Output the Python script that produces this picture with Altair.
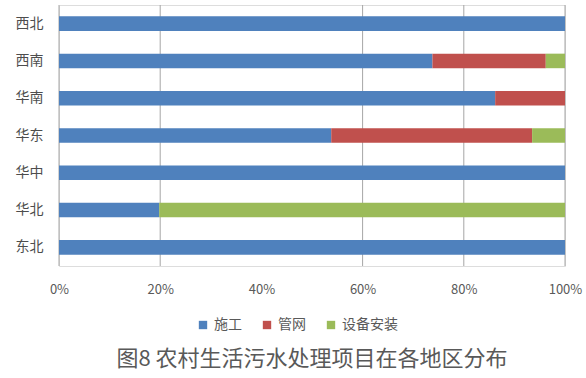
import altair as alt
import pandas as pd

regions = ["西北", "西南", "华南", "华东", "华中", "华北", "东北"]
series = ["施工", "管网", "设备安装"]
shigong = [100, 73.8, 86.2, 53.8, 100, 19.8, 100]
guanwang = [0, 22.4, 13.8, 39.7, 0, 0, 0]
shebei = [0, 3.8, 0, 6.5, 0, 80.2, 0]
colors = ["#4F81BD", "#C0504D", "#9BBB59"]
tick_values = [0, 0.2, 0.4, 0.6, 0.8, 1.0]
grid_values = [0, 0.2, 0.6, 0.8, 1.0]

rows = []
for s_i, (s, vals) in enumerate(zip(series, [shigong, guanwang, shebei])):
    for r, v in zip(regions, vals):
        rows.append({"region": r, "series": s, "value": v, "order": s_i})
df = pd.DataFrame(rows)
grid_df = pd.DataFrame({"g": grid_values})

FONT = "Noto Sans CJK SC"

xscale = alt.Scale(domain=[0, 1], nice=False)

grid = alt.Chart(grid_df).mark_rule(color="#A6A6A6", strokeWidth=1).encode(
    x=alt.X("g:Q", scale=xscale)
)

bars = alt.Chart(df).mark_bar().encode(
    y=alt.Y("region:N", sort=regions,
            scale=alt.Scale(paddingInner=0.61, paddingOuter=0.305),
            axis=alt.Axis(title=None, domain=False, ticks=False, labelFontSize=14,
                          labelColor="#4D4D4D", labelPadding=16, labelFont=FONT,
                          labelFontWeight="normal")),
    x=alt.X("value:Q", stack="normalize", scale=xscale,
            axis=alt.Axis(title=None, values=tick_values, format=".0%", grid=False,
                          domain=False, ticks=False, labelFontSize=13,
                          labelColor="#595959", labelPadding=17, labelFont=FONT,
                          labelFlush=False)),
    color=alt.Color("series:N", scale=alt.Scale(domain=series, range=colors),
                    legend=alt.Legend(orient="none", legendX=137, legendY=313,
                                      direction="horizontal", title=None,
                                      symbolType="square", symbolSize=70,
                                      labelFontSize=14, labelColor="#595959",
                                      labelFont=FONT, columnPadding=18,
                                      symbolStrokeWidth=0)),
    order=alt.Order("order:Q"),
)

chart = alt.layer(grid, bars).properties(
    width=506, height=261,
    autosize=alt.AutoSizeParams(type="none"),
    padding={"left": 59, "top": 5, "right": 21, "bottom": 112},
    title=alt.TitleParams("图8 农村生活污水处理项目在各地区分布", orient="bottom",
                          fontSize=22, color="#595959", fontWeight="normal",
                          font=FONT, offset=17),
).configure_view(stroke=None).configure(background="white")

chart.save("out.html", embed_options={"renderer": "svg", "actions": False})
